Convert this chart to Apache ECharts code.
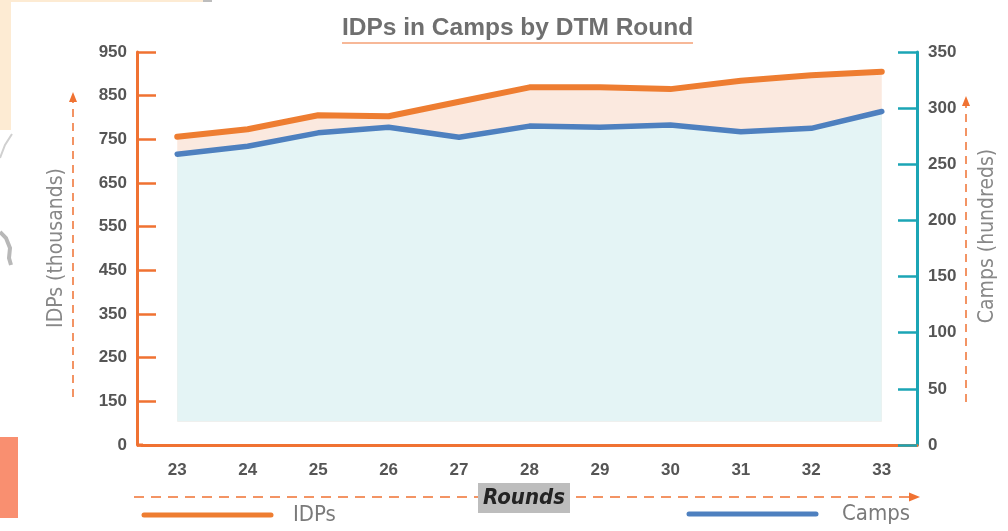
<!DOCTYPE html>
<html>
<head>
<meta charset="UTF-8">
<title>IDPs in Camps by DTM Round</title>
<style>
    html, body { margin: 0; padding: 0; background: #fff; }
    #chartArea {
        position: absolute;
        top: 0;
        left: 0;
        width: 1008px;
        height: 531px;
    }
</style>
</head>
<body>
<div id="chartArea"></div>
<script src="https://cdn.jsdelivr.net/npm/echarts@6/dist/echarts.min.js"></script>
<script>
// DTM rounds on the x axis
var rounds = ['23', '24', '25', '26', '27', '28', '29', '30', '31', '32', '33'];
// IDPs in camps, thousands (left axis)
var idps = [756, 773, 805, 803, 836, 869, 869, 865, 884, 897, 905];
// number of camps, hundreds (right axis)
var camps = [259, 266, 278, 283, 274, 284, 283, 285, 279, 282, 297];
var idpTickLabels = ['0', '150', '250', '350', '450', '550', '650', '750', '850', '950'];
var seriesNames = ['IDPs', 'Camps'];
// the IDP axis goes 0 -> 150 in a single step, so values above it sit 50 lower on the scale
var idpAxisGap = 50;

var ORANGE = '#f07232';
var TEAL = '#1ba5b5';
var LINE_ORANGE = '#ee7d31';
var LINE_BLUE = '#4e80bf';
var NARROW = '"Liberation Sans Narrow", "DejaVu Sans Condensed", Roboto, sans-serif';
var BOLD = '"Liberation Sans", Arial, sans-serif';

var myChart = echarts.init(document.getElementById('chartArea'), null, {renderer: 'canvas'});

myChart.setOption({
    animation: false,
    title: {
        text: 'IDPs in Camps by DTM Round',
        left: 342,
        top: 16,
        padding: 0,
        textStyle: {
            color: '#6f6f6f',
            fontSize: 24.5,
            fontWeight: 'bold',
            fontFamily: BOLD
        }
    },
    grid: {
        left: 142,
        right: 91,
        top: 52,
        bottom: 86
    },
    xAxis: {
        type: 'category',
        data: rounds,
        boundaryGap: true,
        axisLine: {lineStyle: {color: ORANGE, width: 3}},
        axisTick: {inside: true, length: 6, lineStyle: {color: ORANGE, width: 2}},
        axisLabel: {
            margin: 17,
            color: '#555',
            fontSize: 17,
            fontWeight: 'bold',
            fontFamily: BOLD
        },
        splitLine: {show: false}
    },
    yAxis: [
        {
            type: 'value',
            position: 'left',
            offset: 5,
            min: 0,
            max: 900,
            interval: 100,
            axisLine: {show: true, lineStyle: {color: ORANGE, width: 3}},
            axisTick: {show: true, inside: true, length: 19, lineStyle: {color: ORANGE, width: 2.5}},
            axisLabel: {
                margin: 10,
                color: '#555',
                fontSize: 17,
                fontWeight: 'bold',
                fontFamily: BOLD,
                formatter: function (v) {
                    return idpTickLabels[Math.round(v / 100)];
                }
            },
            splitLine: {show: false}
        },
        {
            type: 'value',
            position: 'right',
            min: 0,
            max: 350,
            interval: 50,
            axisLine: {show: true, lineStyle: {color: TEAL, width: 3}},
            axisTick: {show: true, inside: true, length: 19, lineStyle: {color: TEAL, width: 2.5}},
            axisLabel: {
                margin: 11,
                color: '#555',
                fontSize: 17,
                fontWeight: 'bold',
                fontFamily: BOLD
            },
            splitLine: {show: false}
        }
    ],
    series: [
        {
            name: seriesNames[0],
            type: 'line',
            yAxisIndex: 0,
            data: idps.map(function (v) { return v - idpAxisGap; }),
            symbol: 'none',
            z: 2,
            itemStyle: {color: LINE_ORANGE},
            lineStyle: {color: LINE_ORANGE, width: 6, cap: 'round', join: 'round'},
            areaStyle: {color: '#fbe9df', opacity: 1, origin: 53}
        },
        {
            name: seriesNames[1],
            type: 'line',
            yAxisIndex: 1,
            data: camps,
            symbol: 'none',
            z: 3,
            itemStyle: {color: LINE_BLUE},
            lineStyle: {color: LINE_BLUE, width: 5.5, cap: 'round', join: 'round'},
            areaStyle: {color: '#e4f4f5', opacity: 1, origin: 21}
        }
    ],
    graphic: [
        // bits of neighbouring page graphics on the left edge
        {type: 'rect', shape: {x: 0, y: 0, width: 11, height: 130}, style: {fill: '#fdebd3'}, silent: true},
        {type: 'rect', shape: {x: 0, y: 0, width: 203, height: 2}, style: {fill: '#fdebd3'}, silent: true},
        {type: 'rect', shape: {x: 203, y: 0, width: 9, height: 2}, style: {fill: '#bdbdbd'}, silent: true},
        {type: 'polyline', shape: {points: [[0, 158], [5, 145], [12, 134]]}, style: {stroke: '#d0d0d0', lineWidth: 2, fill: null}, silent: true},
        {type: 'polyline', shape: {points: [[0, 232], [6, 238], [10, 248], [9, 258], [11, 265]]}, style: {stroke: '#b8b8b8', lineWidth: 4, fill: null}, silent: true},
        {type: 'rect', shape: {x: 0, y: 437, width: 18, height: 81}, style: {fill: '#f98f70'}, silent: true},

        // x axis line runs out to the left axis
        {type: 'line', shape: {x1: 137, y1: 445, x2: 143, y2: 445}, style: {stroke: ORANGE, lineWidth: 3}, silent: true},

        // title underline
        {type: 'line', shape: {x1: 342, y1: 43, x2: 693, y2: 43}, style: {stroke: ORANGE, lineWidth: 1.2}, silent: true},

        // left axis title with dashed arrow
        {type: 'line', shape: {x1: 73, y1: 397, x2: 73, y2: 101}, style: {stroke: ORANGE, lineWidth: 1.5, lineDash: [8, 6]}, silent: true},
        {type: 'polygon', shape: {points: [[73, 92], [69, 102], [77, 102]]}, style: {fill: ORANGE}, silent: true},
        {type: 'text', x: 57, y: 248, rotation: Math.PI / 2,
            style: {text: 'IDPs (thousands)', fill: '#888', font: '21px ' + NARROW, align: 'center', verticalAlign: 'middle'}, silent: true},

        // right axis title with dashed arrow
        {type: 'line', shape: {x1: 966, y1: 402, x2: 966, y2: 105}, style: {stroke: ORANGE, lineWidth: 1.5, lineDash: [8, 6]}, silent: true},
        {type: 'polygon', shape: {points: [[966, 96], [962, 106], [970, 106]]}, style: {fill: ORANGE}, silent: true},
        {type: 'text', x: 988, y: 236, rotation: Math.PI / 2,
            style: {text: 'Camps (hundreds)', fill: '#888', font: '21px ' + NARROW, align: 'center', verticalAlign: 'middle'}, silent: true},

        // x axis title with dashed arrow
        {type: 'line', shape: {x1: 134, y1: 497, x2: 910, y2: 497}, style: {stroke: ORANGE, lineWidth: 1.5, lineDash: [10, 7]}, silent: true},
        {type: 'polygon', shape: {points: [[920, 497], [909, 492.5], [909, 501.5]]}, style: {fill: ORANGE}, silent: true},
        {type: 'rect', shape: {x: 478, y: 483, width: 92, height: 30}, style: {fill: '#bdbdbd'}, silent: true},
        {type: 'text', x: 524, y: 498,
            style: {text: 'Rounds', fill: '#232323', font: 'italic bold 22px ' + NARROW, align: 'center', verticalAlign: 'middle'}, silent: true},

        // legend
        {type: 'line', shape: {x1: 144, y1: 515, x2: 271, y2: 515}, style: {stroke: LINE_ORANGE, lineWidth: 5, lineCap: 'round'}, silent: true},
        {type: 'text', x: 293, y: 515,
            style: {text: seriesNames[0], fill: '#7a7a7a', font: '22px ' + NARROW, align: 'left', verticalAlign: 'middle'}, silent: true},
        {type: 'line', shape: {x1: 689, y1: 514, x2: 816, y2: 514}, style: {stroke: LINE_BLUE, lineWidth: 5, lineCap: 'round'}, silent: true},
        {type: 'text', x: 842, y: 514,
            style: {text: seriesNames[1], fill: '#7a7a7a', font: '22px ' + NARROW, align: 'left', verticalAlign: 'middle'}, silent: true}
    ]
});
</script>
</body>
</html>
